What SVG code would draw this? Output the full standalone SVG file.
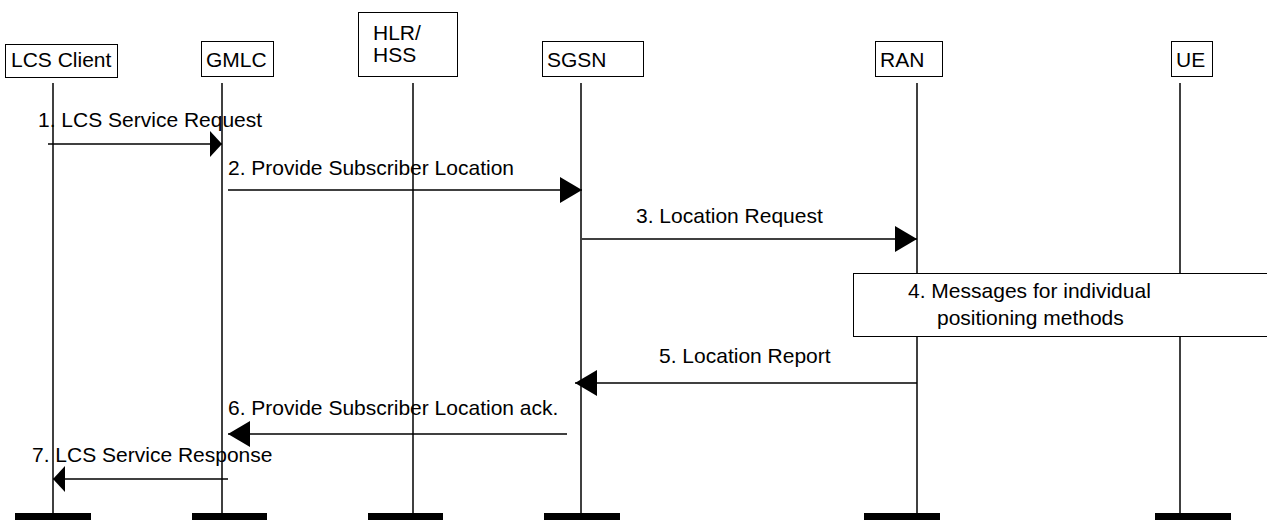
<svg xmlns="http://www.w3.org/2000/svg" width="1267" height="520" viewBox="0 0 1267 520">
<style>
text{font-family:"Liberation Sans",Arial,sans-serif;font-size:21px;fill:#000}
.box{fill:#fff;stroke:#000;stroke-width:1}
.life{stroke:#000;stroke-width:1.5;fill:none}
.bar{fill:#000}
.msg{stroke:#000;stroke-width:1.5;fill:none}
</style>
<defs>
<marker id="big" markerUnits="userSpaceOnUse" markerWidth="24" markerHeight="28" refX="22" refY="13" orient="auto">
<polygon points="0,0 22,13 0,26" fill="#000"/>
</marker>
<marker id="small" markerUnits="userSpaceOnUse" markerWidth="14" markerHeight="28" refX="12" refY="13" orient="auto">
<polygon points="0,0 12,13 0,26" fill="#000"/>
</marker>
</defs>
<rect width="1267" height="520" fill="#fff"/>

<g id="lcs-client">
<rect class="box" x="5.5" y="44.5" width="112" height="33"/>
<text x="11" y="67">LCS Client</text>
<line class="life" x1="53" y1="83" x2="53" y2="513"/>
<rect class="bar" x="15" y="513" width="76" height="10"/>
</g>
<g id="gmlc">
<rect class="box" x="201.5" y="41.5" width="72" height="35"/>
<text x="206" y="67">GMLC</text>
<line class="life" x1="222" y1="83" x2="222" y2="513"/>
<rect class="bar" x="192" y="513" width="75" height="10"/>
</g>
<g id="hlr-hss">
<rect class="box" x="358.5" y="12.5" width="99" height="64"/>
<text x="373" y="40">HLR/</text>
<text x="373" y="62">HSS</text>
<line class="life" x1="413" y1="83" x2="413" y2="513"/>
<rect class="bar" x="368" y="513" width="75" height="10"/>
</g>
<g id="sgsn">
<rect class="box" x="542.5" y="41.5" width="101" height="35"/>
<text x="547" y="67">SGSN</text>
<line class="life" x1="581" y1="83" x2="581" y2="513"/>
<rect class="bar" x="544" y="513" width="76" height="10"/>
</g>
<g id="ran">
<rect class="box" x="875.5" y="41.5" width="67" height="35"/>
<text x="880" y="67">RAN</text>
<line class="life" x1="917" y1="83" x2="917" y2="513"/>
<rect class="bar" x="864" y="513" width="76" height="10"/>
</g>
<g id="ue">
<rect class="box" x="1171.5" y="41.5" width="41" height="35"/>
<text x="1176" y="67">UE</text>
<line class="life" x1="1180" y1="83" x2="1180" y2="513"/>
<rect class="bar" x="1155" y="513" width="76" height="10"/>
</g>

<g id="step4">
<rect class="box" x="853.5" y="273.5" width="414" height="63"/>
<text x="908" y="298">4. Messages for individual</text>
<text x="937" y="325">positioning methods</text>
</g>

<g id="connectors">
<line class="msg" x1="48" y1="144" x2="222" y2="144" marker-end="url(#small)"/>
<text x="38" y="127">1. LCS Service Request</text>
<line class="msg" x1="228" y1="190" x2="582" y2="190" marker-end="url(#big)"/>
<text x="228" y="175">2. Provide Subscriber Location</text>
<line class="msg" x1="582" y1="239" x2="917" y2="239" marker-end="url(#big)"/>
<text x="636" y="223">3. Location Request</text>
<line class="msg" x1="917" y1="383" x2="575" y2="383" marker-end="url(#big)"/>
<text x="659" y="363">5. Location Report</text>
<line class="msg" x1="567" y1="434" x2="228" y2="434" marker-end="url(#big)"/>
<text x="228" y="415">6. Provide Subscriber Location ack.</text>
<line class="msg" x1="228" y1="479" x2="53" y2="479" marker-end="url(#small)"/>
<text x="32" y="462">7. LCS Service Response</text>
</g>
</svg>
